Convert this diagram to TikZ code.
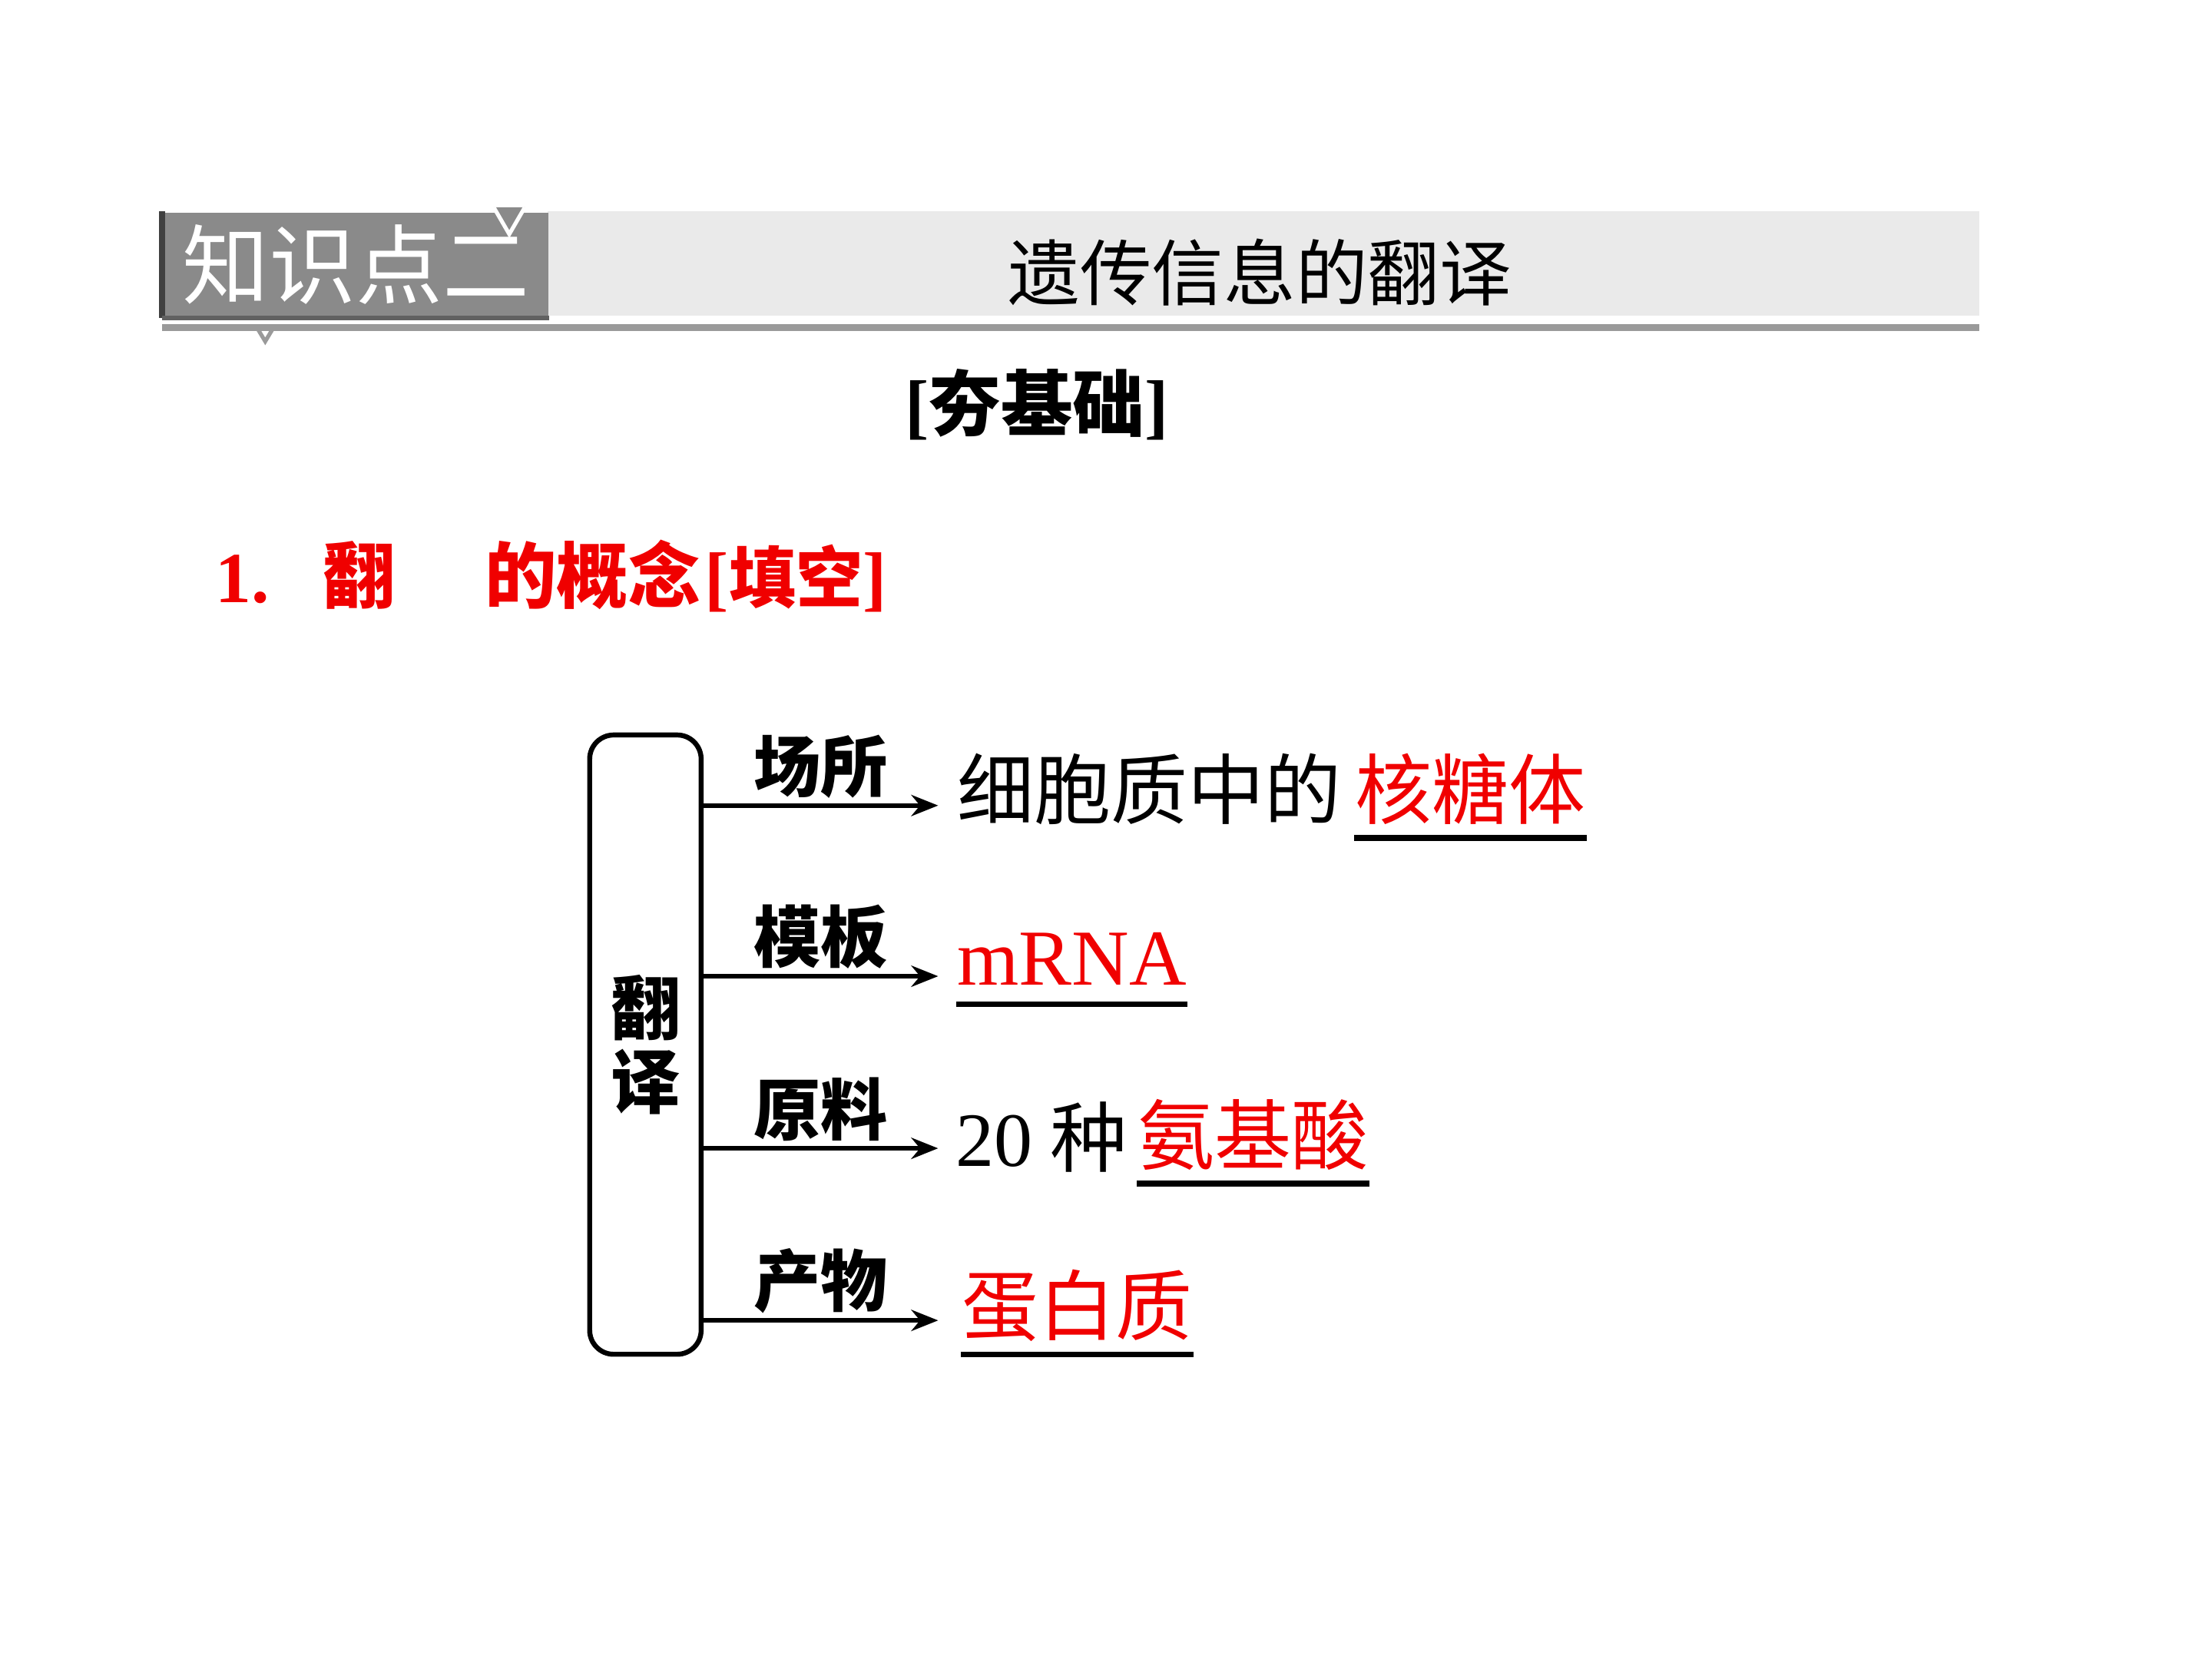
\documentclass[tikz,border=0pt]{standalone}
\usepackage{fontspec}
\setmainfont{Liberation Serif}
\newfontfamily\cjk{Noto Sans CJK SC}
\usetikzlibrary{arrows.meta,positioning,calc}
\definecolor{BarGray}{HTML}{EAEAEA}
\definecolor{TagGray}{HTML}{8A8A8A}
\definecolor{RuleGray}{HTML}{9A9A9A}
\definecolor{AnsRed}{HTML}{F00000}

\begin{document}
\begin{tikzpicture}[>=Stealth,
  lbl/.style={font=\cjk\bfseries\fontsize{13.5}{15}\selectfont, inner sep=1pt},
  txt/.style={font=\cjk\fontsize{15.5}{17}\selectfont, anchor=base west, inner sep=0pt},
  ans/.style={txt, text=AnsRed},
  head/.style={font=\bfseries\fontsize{14.5}{16}\selectfont, text=AnsRed, anchor=base west, inner sep=0pt},
  uline/.style={line width=1.1pt},
  branch/.style={-{Stealth[length=1.9mm,width=1.5mm]}, line width=0.9pt}]
  \useasboundingbox (0,0) rectangle (15.68,-11.76);

  \fill[BarGray] (3.88,-1.50) rectangle (14.03,-2.24);
  \node[fill=TagGray, anchor=north west, minimum width=2.73cm, minimum height=0.74cm, inner sep=0pt,
        text=white, font=\cjk\fontsize{17.5}{19}\selectfont] (tag) at (1.15,-1.50) {知识点二};
  \draw[black!75, line width=1.2pt] (tag.north west) -- (tag.south west);
  \draw[TagGray!70!black, line width=1pt] (tag.south west) -- (tag.south east);
  \draw[white, line width=0.8pt, fill=TagGray] (3.50,-1.47) -- (3.61,-1.66) -- (3.72,-1.47);
  \node[font=\cjk\fontsize{14.5}{16}\selectfont] (title) at (8.93,-1.93) {遗传信息的翻译};
  \draw[RuleGray, line width=1.4pt] (1.15,-2.32) -- (14.03,-2.32);
  \draw[RuleGray, line width=0.8pt] (1.82,-2.32) -- (1.88,-2.42) -- (1.94,-2.32);

  \node[font=\bfseries\fontsize{14.5}{16}\selectfont] (basic) at (7.35,-2.87) {[{\cjk 夯基础}]};

  \node[head] (num) at (1.52,-4.27) {1.};
  \node[head] (fan) at (2.28,-4.27) {\cjk 翻};
  \node[head] (concept) at (3.43,-4.27) {\cjk 的概念};
  \node[head] (blank) at (4.99,-4.27) {[{\cjk\fontsize{13.5}{15}\selectfont 填空}]};

  \node[draw, line width=1pt, rounded corners=0.17cm, minimum width=0.79cm, minimum height=4.39cm, inner sep=0pt,
        font=\cjk\bfseries\fontsize{14}{14.8}\selectfont, align=center] (trans) at (4.575,-7.405) {翻\\译};

  \coordinate (tip1) at (6.65,-5.71);
  \coordinate (tip2) at (6.65,-6.92);
  \coordinate (tip3) at (6.65,-8.14);
  \coordinate (tip4) at (6.65,-9.36);
  \draw[branch] (trans.east |- tip1) -- node[lbl, above] (where) {场所} (tip1);
  \draw[branch] (trans.east |- tip2) -- node[lbl, above] (tmpl) {模板} (tip2);
  \draw[branch] (trans.east |- tip3) -- node[lbl, above] (raw) {原料} (tip3);
  \draw[branch] (trans.east |- tip4) -- node[lbl, above] (prod) {产物} (tip4);

  \node[txt] (site) at (6.78,-5.80) {细胞质中的};
  \node[ans] (ribo) at (9.60,-5.80) {核糖体};
  \node[ans, font=\fontsize{16}{18}\selectfont] (mrna) at (6.78,-6.98) {mRNA};
  \node[txt] (twenty) at (6.77,-8.27) {{\rmfamily 20} 种};
  \node[ans] (amino) at (8.06,-8.25) {氨基酸};
  \node[ans] (protein) at (6.81,-9.46) {蛋白质};

  \draw[uline] ([yshift=-0.14cm]ribo.base west) -- ([yshift=-0.14cm]ribo.base east);
  \draw[uline] ([yshift=-0.14cm]mrna.base west) -- ([yshift=-0.14cm]mrna.base east);
  \draw[uline] ([yshift=-0.14cm]amino.base west) -- ([yshift=-0.14cm]amino.base east);
  \draw[uline] ([yshift=-0.14cm]protein.base west) -- ([yshift=-0.14cm]protein.base east);
\end{tikzpicture}
\end{document}
